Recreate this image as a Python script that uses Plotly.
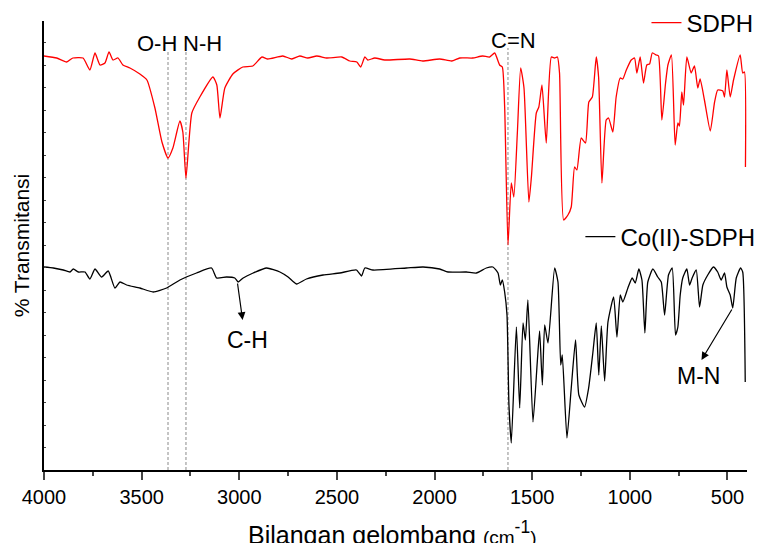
import plotly.graph_objects as go

# ---- data ----
red_wn = [4000,3935,3884,3852,3800,3765,3739,3713,3688,3667,
          3647,3621,3596,3560,3509,3473,3432,3396,3365,3340,
          3304,3289,3273,3243,3202,3135,3115,3099,3074,3033,
          2982,2931,2884,2854,2777,2731,2690,2649,2603,2552,
          2475,2434,2398,2378,2357,2342,2306,2255,2127,2061,
          1974,1912,1871,1805,1754,1718,1692,1667,1653,1641,
          1624,1607,1594,1576,1559,1542,1517,1504,1479,1466,
          1450,1428,1402,1385,1371,1360,1339,1317,1300,1283,
          1271,1249,1227,1210,1192,1172,1160,1143,1121,1109,
          1087,1070,1049,1036,1018,993,976,964,947,930,
          913,899,885,865,853,836,817,805,787,768,
          754,746,734,725,708,686,669,652,640,618,
          588,566,550,524,515,503,486,469,435,422,
          413,408]
red_t = [414,412,408,412,412,400,417,405,407,418,
         410,412,405,402,396,390,362,328,312,322,
         349,338,292,357,373,393,385,352,382,396,
         403,404,413,411,414,411,414,412,414,412,
         413,409,408,403,413,410,412,410,411,409,
         411,409,412,412,414,413,417,405,403,363,
         225,287,273,337,402,382,268,293,357,363,
         385,327,413,412,413,397,250,255,263,303,
         300,332,327,368,373,413,393,287,350,352,
         338,373,392,391,400,410,412,397,413,387,
         405,406,417,415,414,350,387,405,415,325,
         347,344,378,365,413,397,404,382,391,370,
         339,368,380,379,373,400,373,390,415,397,
         398,303]

blk_wn = [4000,3952,3901,3867,3850,3824,3790,3765,3739,3705,
          3671,3637,3611,3577,3509,3441,3372,3304,3219,3142,
          3116,3065,3023,3006,2980,2929,2860,2792,2750,2707,
          2656,2571,2485,2400,2374,2357,2315,2144,2059,1974,
          1931,1837,1786,1735,1701,1675,1663,1653,1641,1629,
          1619,1607,1581,1564,1547,1535,1522,1496,1474,1462,
          1448,1436,1419,1385,1368,1354,1346,1322,1300,1278,
          1261,1232,1211,1189,1172,1159,1146,1129,1112,1083,
          1066,1049,1036,1010,988,972,954,938,923,908,
          882,857,839,822,802,783,766,754,742,729,
          708,694,681,660,643,626,601,572,550,532,
          515,503,486,473,455,433,422,409]
blk_t = [203,202,200,198,201,198,198,191,201,193,
         199,182,188,185,182,178,182,190,197,202,
         192,193,192,188,192,197,202,198,193,186,
         191,195,197,200,194,202,200,202,203,201,
         198,198,197,202,203,197,185,190,178,155,
         65,27,143,62,147,130,170,48,108,139,
         85,145,127,202,188,105,115,32,82,130,
         75,63,82,118,147,95,144,89,148,173,
         133,175,168,182,192,187,201,190,137,188,
         201,193,188,155,195,202,135,143,175,192,
         201,185,192,200,163,185,195,203,198,190,
         197,183,175,162,192,202,198,88]

# peak markers (dashed guide lines) and their labels
guide_wn = [3365, 3273, 1624]
guide_top = [420, 420, 422]
guide_labels = ["O-H", "N-H", "C=N"]
guide_label_wn = [3422, 3186, 1595]
guide_label_t = [426.5, 426.5, 429.5]

# arrow annotations: (label, label pos, arrow tail at peak, arrow tip)
arrow_labels = ["C-H", "M-N"]
arrow_label_wn = [2956, 650]
arrow_label_t = [130, 94]
arrow_tail_wn = [3010, 473]
arrow_tail_t = [188, 162]
arrow_tip_wn = [2983, 633]
arrow_tip_t = [150, 110]

x_ticks = [4000, 3500, 3000, 2500, 2000, 1500, 1000, 500]
x_title = ("Bilangan gelombang <span style='font-size:19px'>(cm</span>"
           "<sup style='font-size:19px'>-1</sup><span style='font-size:19px'>)</span>")

FONT = "Liberation Sans, Arial, sans-serif"

fig = go.Figure()
fig.add_trace(go.Scatter(x=red_wn, y=red_t, mode="lines", name="SDPH",
                         line=dict(color="#ff0000", width=1.3, shape="spline", smoothing=0.5),
                         legend="legend"))
fig.add_trace(go.Scatter(x=blk_wn, y=blk_t, mode="lines", name="Co(II)-SDPH",
                         line=dict(color="#000000", width=1.3, shape="spline", smoothing=0.5),
                         legend="legend2"))

for wn, top in zip(guide_wn, guide_top):
    fig.add_shape(type="line", xref="x", yref="y", x0=wn, x1=wn, y0=0, y1=top,
                  line=dict(color="#8a8a8a", width=1, dash="3px,2px"), layer="below")

for lab, wn, t in zip(guide_labels, guide_label_wn, guide_label_t):
    fig.add_annotation(x=wn, y=t, xref="x", yref="y", text=lab, showarrow=False,
                       font=dict(family=FONT, size=22, color="black"))

for lab, lwn, lt, twn, tt, pwn, pt in zip(arrow_labels, arrow_label_wn, arrow_label_t,
                                          arrow_tail_wn, arrow_tail_t, arrow_tip_wn, arrow_tip_t):
    fig.add_annotation(x=lwn, y=lt, xref="x", yref="y", text=lab, showarrow=False,
                       font=dict(family=FONT, size=23, color="black"))
    fig.add_annotation(x=pwn, y=pt, ax=twn, ay=tt, xref="x", yref="y", axref="x", ayref="y",
                       text="", showarrow=True, arrowhead=2, arrowsize=1.3, arrowwidth=1.2,
                       arrowcolor="black", standoff=0, startstandoff=0)

# x-axis title placed as a paper annotation so it sits low like the reference
fig.add_annotation(x=0.495, y=-0.10, xref="paper", yref="paper", xanchor="center",
                   yanchor="top", text=x_title, showarrow=False,
                   font=dict(family=FONT, size=25, color="black"))

fig.update_layout(
    width=757, height=543,
    margin=dict(l=44, r=10, t=21, b=73, autoexpand=False),
    plot_bgcolor="white", paper_bgcolor="white",
    showlegend=True,
    font=dict(family=FONT, size=20, color="black"),
    legend=dict(x=0.857, y=0.9576, xanchor="left", yanchor="middle", yref="container",
                bgcolor="rgba(0,0,0,0)", font=dict(size=24)),
    legend2=dict(x=0.763, y=0.519, xanchor="left", yanchor="middle",
                 bgcolor="rgba(0,0,0,0)", font=dict(size=24)),
    xaxis=dict(range=[4000, 400], tickvals=x_ticks, ticks="outside", ticklen=8, tickwidth=1.5,
               showline=True, linecolor="black", linewidth=2, showgrid=False, zeroline=False,
               tickfont=dict(size=20), automargin=False,
               minor=dict(dtick=250, ticks="outside", ticklen=4, tickwidth=1.5, showgrid=False)),
    yaxis=dict(range=[0, 449], showticklabels=False, ticks="inside", ticklen=2, tickwidth=1,
               dtick=22.5, tick0=0, showline=True, linecolor="black", linewidth=2,
               showgrid=False, zeroline=False, automargin=False,
               title=dict(text="% Transmitansi", font=dict(size=21), standoff=7)),
)

fig.write_html("out.html", config={"displayModeBar": False},
               post_script="document.body.style.margin='0px';")
